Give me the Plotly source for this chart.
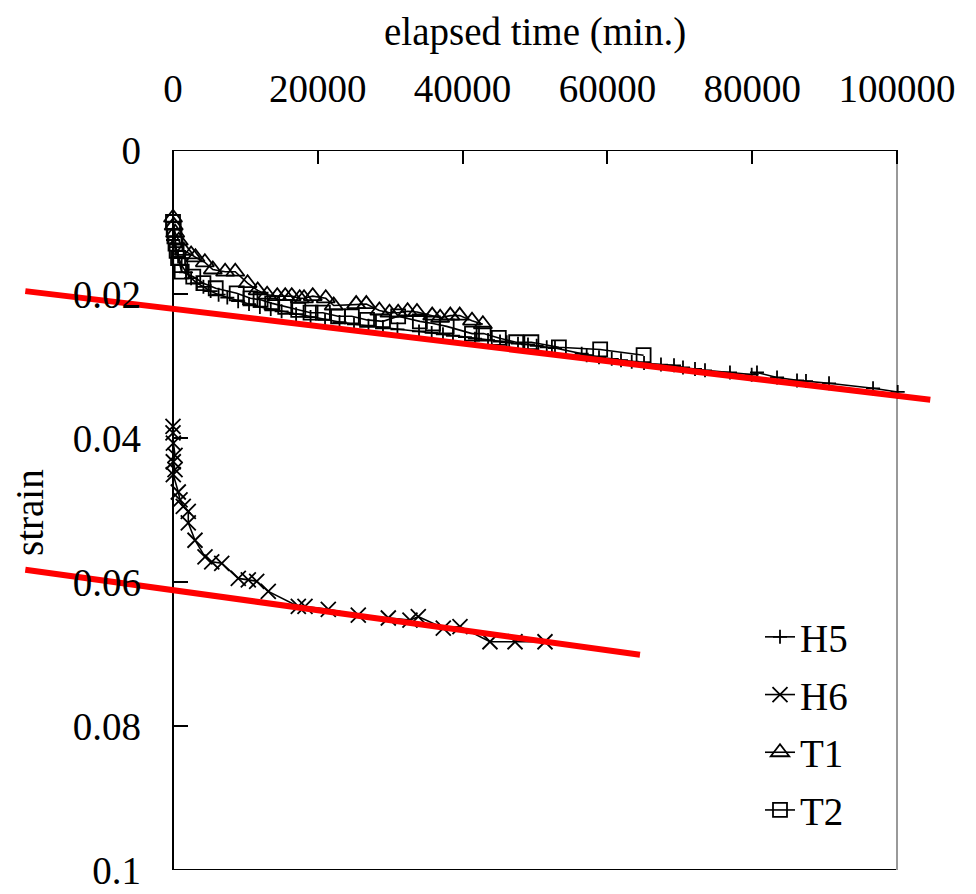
import plotly.graph_objects as go

# ---------------- data ----------------
H5_t = [0, 300, 700, 1200, 1800, 2500, 3300, 4200, 5200, 6300, 7500, 9000, 10500, 12000,
        13500, 15000, 17000, 19000, 21000, 23000, 25000, 27000, 29000, 31000, 33980, 35730,
        37290, 38670, 40330, 41710, 43510, 45170, 46090, 47650, 49030, 50230, 51620, 52760,
        56450, 57140, 58840, 60600, 61880, 63360, 65060, 67400, 69200, 70440, 72100, 73480,
        76930, 79930, 80660, 83430, 86190, 87430, 90610, 96690, 100100]
H5_v = [0.0125, 0.0135, 0.0148, 0.016, 0.017, 0.0178, 0.0185, 0.019, 0.0196, 0.0201, 0.0205,
        0.021, 0.0214, 0.0218, 0.0221, 0.0224, 0.0228, 0.0232, 0.0236, 0.0239, 0.0242, 0.0244,
        0.0246, 0.0249, 0.0252, 0.0254, 0.0256, 0.0258, 0.026, 0.0262, 0.0264, 0.0266, 0.0267,
        0.0269, 0.027, 0.0272, 0.0274, 0.0275, 0.0283, 0.0285, 0.0288, 0.029, 0.0292, 0.0294,
        0.0296, 0.0298, 0.0299, 0.0302, 0.0304, 0.0306, 0.0309, 0.0312, 0.0309, 0.0316,
        0.032, 0.0321, 0.0324, 0.0331, 0.0336]

H6_t = [0, 0, 50, 280, 40, 280, 40, 730, 970, 1420, 2110, 2110, 3040, 4420, 5350, 6730,
        9020, 10400, 11560, 13160, 17310, 18230, 21450, 25590, 29740, 32730, 33880, 37330,
        39640, 43780, 47240, 51380]
H6_v = [0.0384, 0.0393, 0.0407, 0.0424, 0.0433, 0.0444, 0.0451, 0.0475, 0.0486, 0.0495,
        0.0502, 0.0518, 0.0542, 0.0565, 0.0572, 0.0574, 0.0595, 0.0597, 0.0599, 0.0613,
        0.0634, 0.0634, 0.0638, 0.0646, 0.0650, 0.0653, 0.0648, 0.0664, 0.0662, 0.0683,
        0.0683, 0.0683]

T1_t = [0, 100, 300, 800, 1500, 2500, 3100, 4400, 5500, 7200, 8600, 10300, 11700, 13000,
        14400, 15500, 16400, 17500, 18100, 19300, 21100, 22200, 25300, 26700, 28500, 29900,
        31100, 32400, 33700, 35800, 36900, 38300, 39600, 41300, 42800]
T1_v = [0.0094, 0.0105, 0.0115, 0.0126, 0.014, 0.0145, 0.0149, 0.0156, 0.0166, 0.0169,
        0.0169, 0.0185, 0.0195, 0.0201, 0.0203, 0.0203, 0.0203, 0.0206, 0.0206, 0.0203,
        0.0206, 0.0216, 0.0214, 0.0214, 0.0223, 0.0226, 0.0226, 0.0224, 0.0225, 0.023,
        0.0233, 0.023, 0.023, 0.0237, 0.0242]

T2_t = [0, 100, 200, 350, 500, 700, 1000, 1200, 2800, 4200, 5900, 8800, 10700, 12100,
        13700, 15500, 17300, 19000, 20700, 22800, 24700, 26800, 29000, 31100, 34100, 35900,
        37800, 41300, 42900, 45000, 47400, 49500, 53300, 59000, 65000]
T2_v = [0.0100, 0.0110, 0.0120, 0.0130, 0.0140, 0.0150, 0.0160, 0.0169, 0.0176, 0.0185,
        0.0192, 0.0199, 0.0206, 0.0208, 0.0213, 0.0218, 0.0222, 0.0226, 0.0226, 0.0231,
        0.0231, 0.0236, 0.0238, 0.0231, 0.0238, 0.0241, 0.0245, 0.0255, 0.0255, 0.0261,
        0.0267, 0.0267, 0.0274, 0.0277, 0.0285]

FIT1_t = [-20400, 104600]
FIT1_v = [0.0196, 0.0347]
FIT2_t = [-20400, 64500]
FIT2_v = [0.0583, 0.0701]

X_TICKS = [0, 20000, 40000, 60000, 80000, 100000]
Y_TICKS = [0, 0.02, 0.04, 0.06, 0.08, 0.1]

# ---------------- figure ----------------
FONT = "Liberation Serif, Times New Roman, Tinos, Nimbus Roman, DejaVu Serif, serif"
W, H = 960, 878              # page body margin (8px) brings total to 976x894
fig = go.Figure()

line_style = dict(color="black", width=1.6)
series = [
    ("H5", H5_t, H5_v, "cross-thin-open", 10),
    ("H6", H6_t, H6_v, "x-thin-open", 15),
    ("T1", T1_t, T1_v, "triangle-up-open", 16),
    ("T2", T2_t, T2_v, "square-open", 14),
]
for name, t, v, sym, sz in series:
    fig.add_trace(go.Scatter(
        x=t, y=v, name=name, legendgroup=name, mode="lines+markers",
        line=line_style,
        marker=dict(symbol=sym, size=sz, color="black",
                    line=dict(color="black", width=1.8)),
    ))

for t, v in [(FIT1_t, FIT1_v), (FIT2_t, FIT2_v)]:
    fig.add_trace(go.Scatter(x=t, y=v, mode="lines", showlegend=False,
                             line=dict(color="#ff0000", width=6), hoverinfo="skip"))

# plot frame (0..100000 x 0..0.1)
frame = [
    ((0, 0), (100000, 0), "black"),
    ((0, 0), (0, 0.1), "black"),
    ((0, 0.1), (100000, 0.1), "black"),
    ((100000, 0), (100000, 0.1), "#999999"),
]
for (x0, y0), (x1, y1), c in frame:
    fig.add_shape(type="line", xref="x", yref="y", x0=x0, y0=y0, x1=x1, y1=y1,
                  line=dict(color=c, width=2), layer="below")

# pixel geometry in figure coordinates
X0PX = 165                   # x of t=0
PXPER = 0.00724              # px per minute
TOP, BOT = 142, 862
L, R = 12, 932
x_lo = (L - X0PX) / PXPER
x_hi = (R - X0PX) / PXPER
ypos = (X0PX - L) / (R - L)
PH = BOT - TOP


def py(p):
    return 1 - (p - TOP) / PH


def px(p):
    return (p - L) / (R - L)


fig.update_layout(
    width=W, height=H,
    margin=dict(l=L, r=W - R, t=TOP, b=H - BOT, autoexpand=False),
    paper_bgcolor="white", plot_bgcolor="white",
    font=dict(family=FONT, size=39, color="black"),
    showlegend=True,
    legend=dict(x=px(752), y=py(597), xanchor="left", yanchor="top",
                bgcolor="rgba(0,0,0,0)", font=dict(family=FONT, size=39, color="black"),
                tracegroupgap=4, traceorder="grouped"),
    xaxis=dict(side="top", range=[x_lo, x_hi], tickvals=X_TICKS, tickformat="d",
               showgrid=False, zeroline=False, showline=False,
               ticks="inside", ticklen=14, tickwidth=2, tickcolor="black",
               ticklabelstandoff=39, ticklabeloverflow="allow",
               tickfont=dict(family=FONT, size=39, color="black")),
    yaxis=dict(range=[0.1, 0], tickvals=Y_TICKS, anchor="free", position=ypos,
               showgrid=False, zeroline=False, showline=False,
               ticks="inside", ticklen=14, tickwidth=2, tickcolor="black",
               ticklabelstandoff=32, ticklabeloverflow="allow",
               tickfont=dict(family=FONT, size=39, color="black")),
    annotations=[
        dict(text="elapsed time (min.)", xref="x", yref="paper", x=50000, y=py(24),
             xanchor="center", yanchor="middle", showarrow=False,
             font=dict(family=FONT, size=39, color="black")),
        dict(text="strain", xref="paper", yref="paper", x=px(21), y=py(505),
             xanchor="center", yanchor="middle", textangle=-90, showarrow=False,
             font=dict(family=FONT, size=39, color="black")),
    ],
)

fig.write_html("out.html")
